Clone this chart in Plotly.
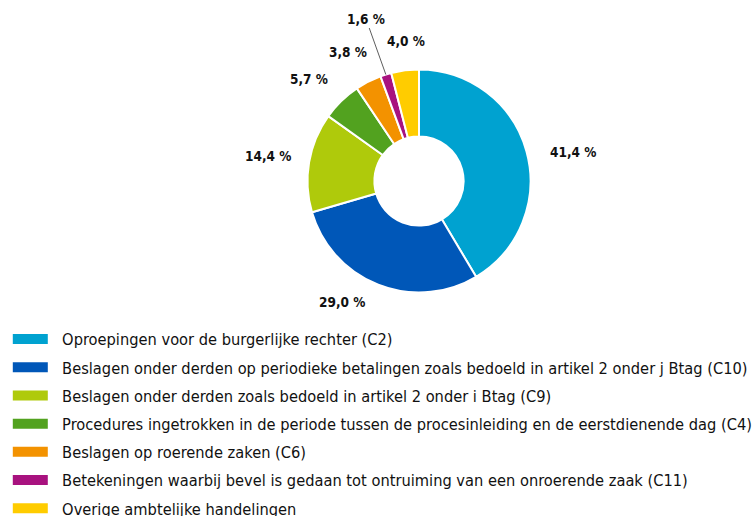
import math
import plotly.graph_objects as go

categories = [
    "Oproepingen voor de burgerlijke rechter (C2)",
    "Beslagen onder derden op periodieke betalingen zoals bedoeld in artikel 2 onder j Btag (C10)",
    "Beslagen onder derden zoals bedoeld in artikel 2 onder i Btag (C9)",
    "Procedures ingetrokken in de periode tussen de procesinleiding en de eerstdienende dag (C4)",
    "Beslagen op roerende zaken (C6)",
    "Betekeningen waarbij bevel is gedaan tot ontruiming van een onroerende zaak (C11)",
    "Overige ambtelijke handelingen",
]
values = [41.4, 29.0, 14.4, 5.7, 3.8, 1.6, 4.0]
labels_txt = ["41,4 %", "29,0 %", "14,4 %", "5,7 %", "3,8 %", "1,6 %", "4,0 %"]
colors = ["#00A2D0", "#0057B8", "#AFCA0B", "#52A21F", "#F39200", "#A8127F", "#FFCC00"]

W, H = 755, 516
CX, CY, R = 419, 181, 111.5  # pixel centre / radius of the pie
label_r = 148
nudges = [(11, 10), (-23, -17), (-5, 0), (-7, 4), (-4, 3), (0, 0), (6, 7)]
arrow_idx = 5
FONT = "DejaVu Sans Condensed, Roboto Condensed, DejaVu Sans"

fig = go.Figure()
fig.add_trace(go.Pie(
    values=values, labels=categories, hole=0.4, sort=False,
    direction="clockwise", rotation=0, textinfo="none",
    marker=dict(colors=colors, line=dict(color="white", width=2)),
    domain=dict(x=[(CX - R) / W, (CX + R) / W], y=[(H - CY - R) / H, (H - CY + R) / H]),
    showlegend=False, hoverinfo="label+percent",
))

for name, c in zip(categories, colors):
    fig.add_trace(go.Scatter(
        x=[None], y=[None], mode="lines", name="\u00a0\u00a0" + name, legendgroup=name,
        line=dict(color=c, width=11),
    ))

total = sum(values)
cum = 0
annotations = []
for i, (v, t) in enumerate(zip(values, labels_txt)):
    mid = (cum + v / 2) / total * 2 * math.pi
    cum += v
    sx, sy = math.sin(mid), -math.cos(mid)
    if i == arrow_idx:
        px, py = CX + R * sx, CY + R * sy
        annotations.append(dict(
            x=px / W, y=1 - py / H, xref="paper", yref="paper", text="<b>" + t + "</b>",
            showarrow=True, arrowhead=0, arrowwidth=0.8, arrowcolor="#333",
            ax=-20, ay=-56, font=dict(size=13.5, color="#111"),
        ))
    else:
        dx, dy = nudges[i]
        px, py = CX + label_r * sx + dx, CY + label_r * sy + dy
        annotations.append(dict(
            x=px / W, y=1 - py / H, xref="paper", yref="paper", text="<b>" + t + "</b>",
            showarrow=False, font=dict(size=13.5, color="#111"),
            xanchor="center", yanchor="middle",
        ))

fig.update_layout(
    width=W, height=H,
    margin=dict(l=0, r=0, t=0, b=0, autoexpand=False),
    paper_bgcolor="white", plot_bgcolor="white",
    font=dict(family=FONT, color="#111"),
    xaxis=dict(visible=False), yaxis=dict(visible=False),
    annotations=annotations,
    legend=dict(
        x=7.8 / W, y=1 - 322 / H, xanchor="left", yanchor="top",
        font=dict(size=16.3, color="#111", family=FONT), tracegroupgap=4,
        traceorder="grouped", itemwidth=35,
        bgcolor="rgba(0,0,0,0)",
    ),
)

fig.write_html("out.html", config={"displayModeBar": False},
               post_script="document.body.style.margin='0';")
